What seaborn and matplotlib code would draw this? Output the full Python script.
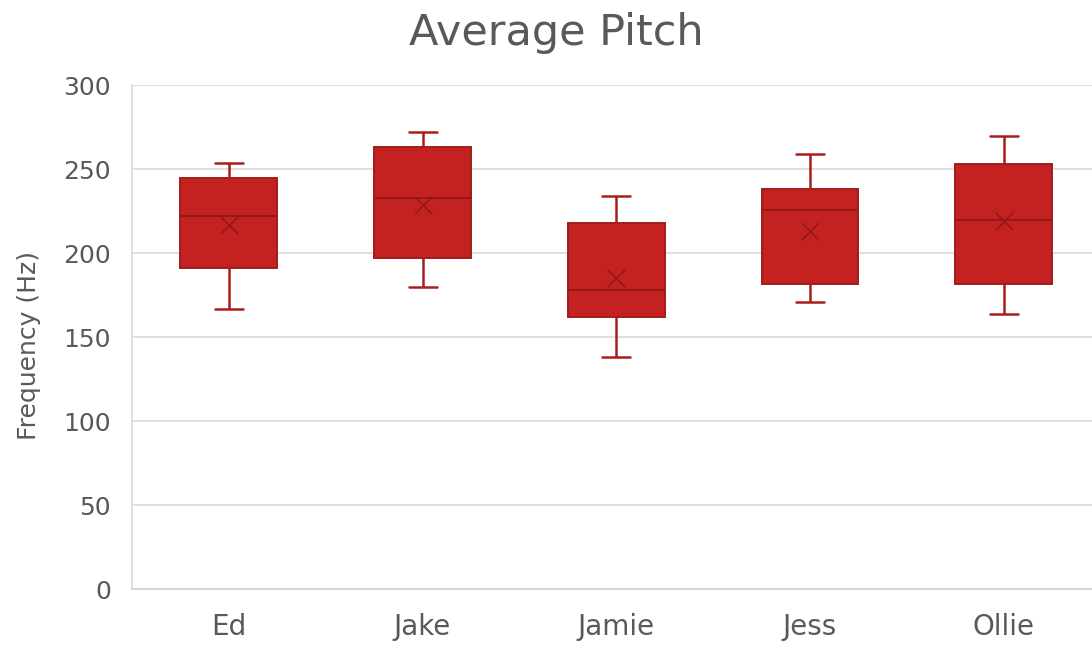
import numpy as np
import pandas as pd
import matplotlib
matplotlib.use("Agg")
import matplotlib.pyplot as plt
import seaborn as sns

# Five-number summaries and means of each speaker's average pitch (Hz)
speakers = ["Ed", "Jake", "Jamie", "Jess", "Ollie"]
whisker_low = [167, 180, 138, 171, 164]
quartile_1 = [191, 197, 162, 182, 182]
medians = [222, 233, 178, 226, 220]
quartile_3 = [245, 263, 218, 238, 253]
whisker_high = [254, 272, 234, 259, 270]
means = [217, 229, 185, 213, 219]

# Long-form table: one row per summary value so the box spans q1..q3
# and the whiskers reach the extremes (whis=(0, 100)).
rows = []
for i, name in enumerate(speakers):
    for v in (whisker_low[i], quartile_1[i], medians[i], quartile_3[i], whisker_high[i]):
        rows.append({"speaker": name, "frequency": v})
df = pd.DataFrame(rows)

sns.set_style("white")
plt.rcParams["font.family"] = ["DejaVu Sans"]

TEXT = "#595959"
RED = "#C42121"
DARK = "#A11B1B"

fig = plt.figure(figsize=(10.92, 6.56), dpi=100)
ax = fig.add_axes([132 / 1092, (656 - 589.3) / 656, 968.5 / 1092, 504 / 656])

sns.boxplot(
    data=df, x="speaker", y="frequency", order=speakers,
    color=RED, saturation=1, width=0.5, whis=(0, 100),
    linewidth=1.5, linecolor=DARK, fliersize=0,
    capwidths=0.145,
    boxprops=dict(edgecolor="#A21C1C", linewidth=1.4),
    medianprops=dict(color="#931818", linewidth=1.3),
    whiskerprops=dict(color="#A81D1D", linewidth=1.8),
    capprops=dict(color="#A81D1D", linewidth=1.8),
    ax=ax, zorder=3,
)

sns.scatterplot(
    x=speakers, y=means, marker="x", s=150, color="#931717",
    linewidth=1.1, ax=ax, zorder=5, legend=False,
)

ax.set_xlim(-0.5, 4.5)
ax.set_ylim(0, 300)
ax.set_yticks(np.arange(0, 301, 50))
ax.yaxis.grid(True, color="#D9D9D9", linewidth=1.2)
ax.xaxis.grid(False)
ax.set_axisbelow(True)

for side in ("top", "right"):
    ax.spines[side].set_visible(False)
ax.spines["left"].set_color("#D9D9D9")
ax.spines["bottom"].set_color("#CFCFCF")
ax.spines["left"].set_linewidth(1.2)
ax.spines["bottom"].set_linewidth(1.2)

ax.tick_params(axis="both", length=0, colors=TEXT)
ax.tick_params(axis="y", labelsize=18, pad=15)
ax.tick_params(axis="x", labelsize=20, pad=17)
ax.set_xlabel("")
ax.set_ylabel("")

fig.text(29 / 1092, 1 - 346 / 656, "Frequency (Hz)", rotation=90,
         ha="center", va="center", fontsize=18, color=TEXT)
fig.text(556 / 1092, 1 - 33 / 656, "Average Pitch", ha="center", va="center",
         fontsize=31, color=TEXT)

fig.savefig("out.png", dpi=100, facecolor="white")
